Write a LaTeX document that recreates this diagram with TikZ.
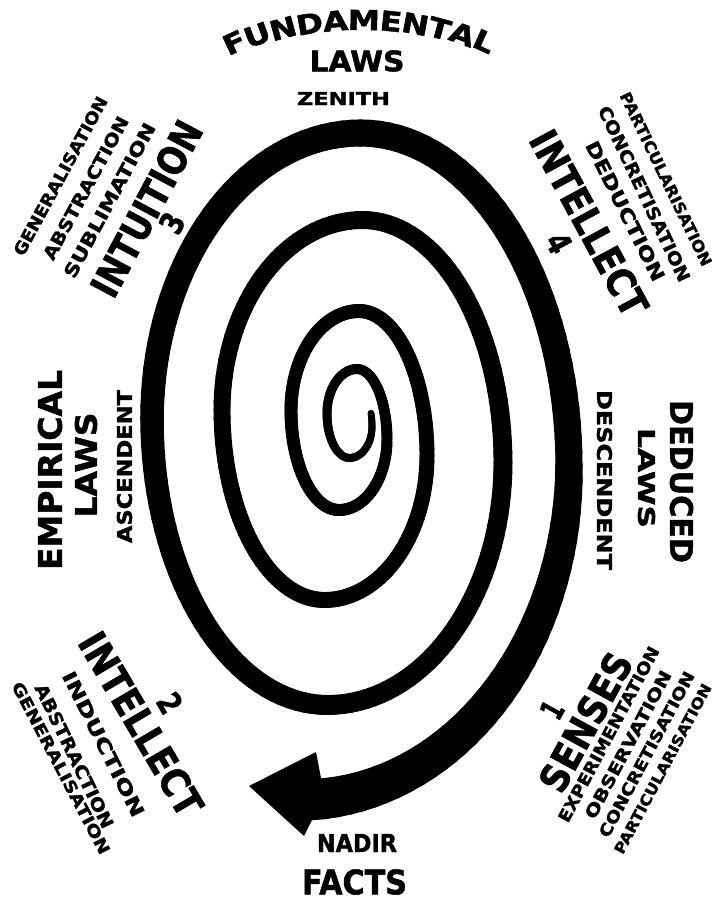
\documentclass[tikz,border=0pt]{standalone}
\usepackage{fontspec}
\setmainfont{DejaVu Sans}[BoldFeatures={FakeBold=1.5}]
\usepackage{graphicx}
\newlength\pxu \setlength\pxu{0.02cm}
\newcommand\lab[3]{\resizebox{#1\pxu}{#2\pxu}{\bfseries #3}}
\newcommand\archar[1]{\scalebox{1.18}[1]{\fontsize{15.6pt}{16pt}\selectfont\bfseries #1}}
\def\Xarr{{350,372,327,387,291,427,222,503,152,569,31}}
\def\Yarr{{395,458,369,510,311,600,220,705,133,800,100}}
\newcommand\spiralpt[1]{%
  \pgfmathtruncatemacro\ix{floor((#1+180)/180)}%
  \pgfmathtruncatemacro\ixn{\ix+1}%
  \pgfmathsetmacro\xa{\Xarr[\ix]}%
  \pgfmathsetmacro\xb{\Xarr[\ixn]}%
  \pgfmathsetmacro\px{(\xa+\xb)/2+(\xa-\xb)/2*cos(#1+180-180*\ix)}%
  \pgfmathtruncatemacro\iy{floor((#1+90)/180)}%
  \pgfmathtruncatemacro\iyn{\iy+1}%
  \pgfmathsetmacro\ya{\Yarr[\iy]}%
  \pgfmathsetmacro\yb{\Yarr[\iyn]}%
  \pgfmathsetmacro\py{(\ya+\yb)/2+(\ya-\yb)/2*cos(#1+90-180*\iy)}%
}
\tikzset{lbl/.style={inner sep=0pt}}
\begin{document}
\begin{tikzpicture}[x=0.02cm,y=-0.02cm]
\fill[white] (0,0) rectangle (715,900);
\useasboundingbox (0,0) rectangle (715,900);
% spiral
\foreach \t in {-25,-22.5,...,1527.5} {
  \spiralpt{\t}
  \pgfmathsetmacro\pw{7+0.011*min(\t,1170)+0.04*max(0,min(\t,1350)-1170)+0.16*max(0,\t-1440)}
  \ifdim \t pt > -24pt
    \draw[line width=\pw\pxu, line cap=round] (\lastx,\lasty) -- (\px,\py);
  \fi
  \xdef\lastx{\px}\xdef\lasty{\py}
}
% arrowhead
\coordinate (tip) at (249,786);
\fill (316,752) -- (tip) -- (304,836) -- (313,818) -- (321,778) -- cycle;
% top
\foreach \c/\a [count=\i] in {F/-20.1,U/-16.35,N/-12.2,D/-8.02,A/-3.99,M/0.45,E/4.67,N/8.49,T/12.3,A/15.96,L/19.5}
  \node[lbl, rotate={-1.25*\a}] (fund\i) at ({361+369*sin(\a)},{389-369*cos(\a)}) {\archar{\c}};
\node[lbl] (lawstop) at (357,61) {\lab{95}{21}{LAWS}};
\node[lbl] (zenith) at (343.5,98.5) {\lab{93}{13}{ZENITH}};
% bottom
\node[lbl] (nadir) at (357,843) {\lab{80}{18}{NADIR}};
\node[lbl] (facts) at (354.5,882) {\lab{105}{25}{FACTS}};
% top-left
\node[lbl, rotate=61.5] (genL) at (60.4,176) {\lab{178}{12.5}{GENERALISATION}};
\node[lbl, rotate=61.6] (absL) at (85.7,188) {\lab{160}{13}{ABSTRACTION}};
\node[lbl, rotate=61.7] (subL) at (109.5,200.3) {\lab{173}{13.5}{SUBLIMATION}};
\node[lbl, rotate=62] (intu) at (146.4,208.6) {\lab{193}{29}{INTUITION}};
\node[lbl, rotate=61] (three) at (172,223) {\lab{18}{24}{3}};
% top-right
\node[lbl, rotate=-64.2] (partR) at (666,179) {\lab{191}{11.5}{PARTICULARISATION}};
\node[lbl, rotate=-64.7] (concR) at (644.3,193.8) {\lab{192}{13}{CONCRETISATION}};
\node[lbl, rotate=-63.5] (dedR) at (625.3,211) {\lab{154}{14}{DEDUCTION}};
\node[lbl, rotate=-61.6] (intelR) at (589,223) {\lab{205}{29}{INTELLECT}};
\node[lbl, rotate=-62] (four) at (559,243) {\lab{18}{24}{4}};
% bottom-left
\node[lbl, rotate=-59.6] (intelL) at (141,724) {\lab{206}{29}{INTELLECT}};
\node[lbl, rotate=-60] (two) at (170,703) {\lab{18}{24}{2}};
\node[lbl, rotate=-63.4] (indL) at (103.5,744) {\lab{160}{14}{INDUCTION}};
\node[lbl, rotate=-64.2] (absBL) at (74.3,756) {\lab{158}{13}{ABSTRACTION}};
\node[lbl, rotate=-62.3] (genBL) at (61,768) {\lab{192}{12}{GENERALISATION}};
% bottom-right
\node[lbl, rotate=61.4] (senses) at (585.6,722) {\lab{152}{29}{SENSES}};
\node[lbl, rotate=61] (one) at (552,710) {\lab{15}{23}{1}};
\node[lbl, rotate=62] (expBR) at (608.6,734.2) {\lab{196}{12.5}{EXPERIMENTATION}};
\node[lbl, rotate=62] (obsBR) at (628,744.5) {\lab{165}{12.5}{OBSERVATION}};
\node[lbl, rotate=62] (concBR) at (646.6,754.3) {\lab{185}{12}{CONCRETISATION}};
\node[lbl, rotate=62] (partBR) at (662.7,768.7) {\lab{190}{11}{PARTICULARISATION}};
% left middle
\node[lbl, rotate=90] (empir) at (50,470) {\lab{200}{24}{EMPIRICAL}};
\node[lbl, rotate=90] (lawsL) at (86,465) {\lab{105}{22}{LAWS}};
\node[lbl, rotate=90] (ascend) at (124.5,466.5) {\lab{153}{15}{ASCENDENT}};
% right middle
\node[lbl, rotate=-90] (deduced) at (681.5,481.5) {\lab{163}{23}{DEDUCED}};
\node[lbl, rotate=-90] (lawsR) at (646.5,478) {\lab{100}{17}{LAWS}};
\node[lbl, rotate=-90] (descend) at (604.5,480) {\lab{180}{15}{DESCENDENT}};
\end{tikzpicture}
\end{document}
